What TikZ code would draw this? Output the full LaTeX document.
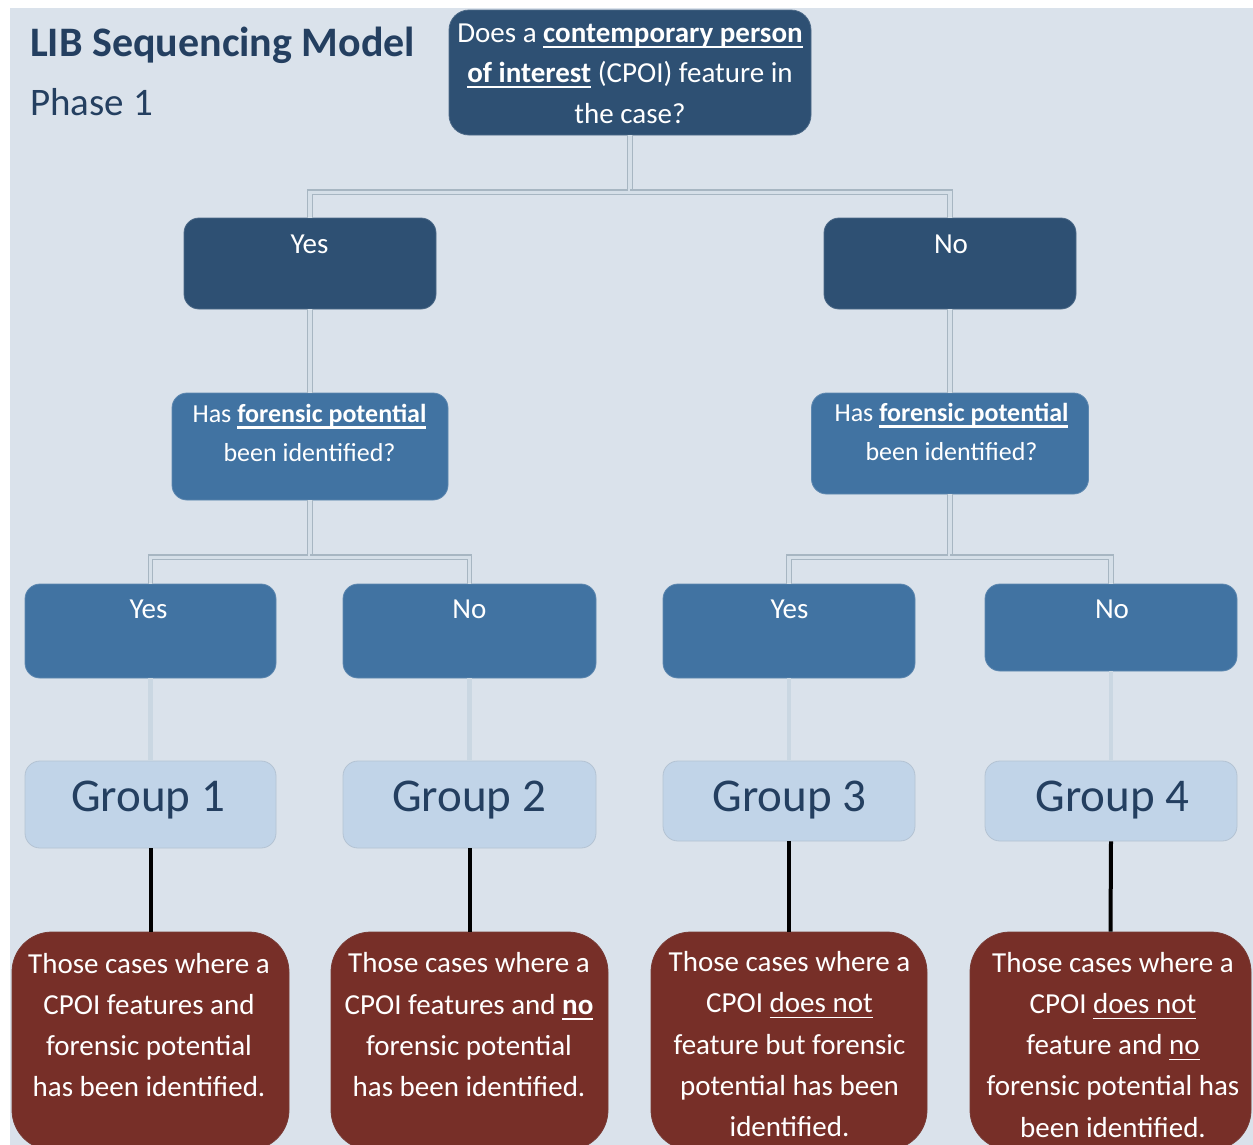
\documentclass[tikz,border=0pt]{standalone}
\usepackage{fontspec}
\setmainfont{Carlito}
\definecolor{bgc}{HTML}{DAE2EB}
\definecolor{dkb}{HTML}{2E5073}
\definecolor{mdb}{HTML}{4173A2}
\definecolor{ltb}{HTML}{C1D4E8}
\definecolor{grt}{HTML}{243F60}
\definecolor{rbrn}{HTML}{772F28}
\definecolor{lnout}{HTML}{A7B6C2}
\definecolor{lnin}{HTML}{D5DFE8}
\definecolor{lnlt}{HTML}{CAD7E2}
\newbox\myulbox
\newcommand\ulx[3]{\setbox\myulbox\hbox{#3}\rlap{\vrule width\wd\myulbox height -#1 depth \dimexpr#1+#2\relax}\box\myulbox}
\newcommand\bu[1]{\ulx{3.5pt}{2.4pt}{\textbf{#1}}}
\newcommand\ru[1]{\ulx{4pt}{1.3pt}{#1}}
\newcommand\fsT{\fontsize{29}{40.5}\selectfont}
\newcommand\fsY{\fontsize{29}{40}\selectfont}
\newcommand\fsQ{\fontsize{26}{39}\selectfont}
\newcommand\fsG{\fontsize{47}{57}\selectfont}
\newcommand\fsR{\fontsize{29}{41.2}\selectfont}
\tikzset{
  bx/.style={rectangle, inner sep=0pt},
  dk/.style={bx, fill=dkb, draw=dkb!85!white, line width=0.8pt, rounded corners=15pt},
  md/.style={bx, fill=mdb, draw=mdb!85!white, line width=0.8pt, rounded corners=15pt},
  lt/.style={bx, fill=ltb, draw=ltb!80!gray, line width=0.8pt, rounded corners=15pt},
  rd/.style={bx, fill=rbrn, draw=rbrn!85!gray, line width=0.8pt, rounded corners=40pt},
  wt/.style={inner sep=0pt, align=center, text=white},
  gt/.style={inner sep=0pt, align=center, text=grt},
  dconn/.style={draw=lnout, line width=1.2pt, double=lnin, double distance=3.5pt},
  lconn/.style={draw=lnlt, line width=4.5pt},
  bconn/.style={draw=black, line width=4pt}
}
\begin{document}
\begin{tikzpicture}[x=1pt,y=-1pt]
\useasboundingbox (0,0) rectangle (1253,1144);
\clip (0,0) rectangle (1253,1144);
\fill[white] (0,0) rectangle (1253,1144);
\fill[bgc] (10,8) rectangle (1253,1150);

% title
\node[anchor=base west, inner sep=0pt, text=grt, font=\fontsize{42}{50}\selectfont\bfseries] (title) at (30,56) {LIB Sequencing Model};
\node[anchor=base west, inner sep=0pt, text=grt, font=\fontsize{39}{48}\selectfont] (phase) at (30,115) {Phase 1};

% boxes
\node[dk, rounded corners=20pt, minimum width=362pt, minimum height=125pt] (top) at (630,72.5) {};
\node[dk, minimum width=252pt, minimum height=91pt] (y1) at (310,263.5) {};
\node[dk, minimum width=252pt, minimum height=91pt] (n1) at (950,263.5) {};
\node[md, minimum width=276pt, minimum height=107pt] (q1) at (310,446.5) {};
\node[md, minimum width=277pt, minimum height=101pt] (q2) at (950,443.5) {};
\node[md, minimum width=251pt, minimum height=94pt] (a3) at (150.5,631) {};
\node[md, minimum width=253pt, minimum height=94pt] (b3) at (469.5,631) {};
\node[md, minimum width=252pt, minimum height=94pt] (c3) at (789,631) {};
\node[md, minimum width=252pt, minimum height=87pt] (d3) at (1111,627.5) {};
\node[lt, minimum width=251pt, minimum height=87pt] (g1) at (150.5,804.5) {};
\node[lt, minimum width=253pt, minimum height=87pt] (g2) at (469.5,804.5) {};
\node[lt, minimum width=252pt, minimum height=80pt] (g3) at (789,801) {};
\node[lt, minimum width=252pt, minimum height=80pt] (g4) at (1111,801) {};
\node[rd, minimum width=277pt, minimum height=218pt] (r1) at (150.5,1041) {};
\node[rd, minimum width=277pt, minimum height=218pt] (r2) at (469.5,1041) {};
\node[rd, minimum width=276pt, minimum height=218pt] (r3) at (789,1041) {};
\node[rd, minimum width=281pt, minimum height=218pt] (r4) at (1110.5,1041) {};

% texts
\node[wt, font=\fsT] (ttop) at (630,74.4) {\strut Does a \bu{contemporary person}\\ \bu{of interest} (CPOI) feature in\\ the case?\strut};
\node[wt, font=\fsY] (ty1) at (309.5,245) {\strut Yes};
\node[wt, font=\fsY] (tn1) at (951,245) {\strut No};
\node[wt, font=\fsQ] (tq1) at (309.5,434.4) {\strut Has \bu{forensic potential}\\ been identified?\strut};
\node[wt, font=\fsQ] (tq2) at (951.5,433.6) {\strut Has \bu{forensic potential}\\ been identified?\strut};
\node[wt, font=\fsY] (ta3) at (148.5,610.7) {\strut Yes};
\node[wt, font=\fsY] (tb3) at (469.5,610.7) {\strut No};
\node[wt, font=\fsY] (tc3) at (789.5,610.7) {\strut Yes};
\node[wt, font=\fsY] (td3) at (1112,610.7) {\strut No};
\node[gt, font=\fsG] (tg1) at (148,800.3) {\strut Group 1};
\node[gt, font=\fsG] (tg2) at (469,800.3) {\strut Group 2};
\node[gt, font=\fsG] (tg3) at (789.5,800.3) {\strut Group 3};
\node[gt, font=\fsG] (tg4) at (1112.5,800.3) {\strut Group 4};
\node[wt, font=\fsR] (tr1) at (149,1026.9) {\strut Those cases where a\\ CPOI features and\\ forensic potential\\ has been identified.\strut};
\node[wt, font=\fsR] (tr2) at (469,1026.4) {\strut Those cases where a\\ CPOI features and \bu{no}\\ forensic potential\\ has been identified.\strut};
\node[wt, font=\fsR] (tr3) at (789.5,1045.9) {\strut Those cases where a\\ CPOI \ru{does not}\\ feature but forensic\\ potential has been\\ identified.\strut};
\node[wt, font=\fsR] (tr4) at (1113,1046.5) {\strut Those cases where a\\ CPOI \ru{does not}\\ feature and \ru{no}\\ forensic potential has\\ been identified.\strut};

% connectors
\path (top.south) ++(0,57) coordinate (j0);
\path (q1.south) ++(0,57) coordinate (j1);
\path (q2.south) ++(0,63) coordinate (j2);
\draw[dconn] (top.south) -- (j0) -| (y1.north);
\draw[dconn] (j0) -| (n1.north);
\draw[dconn] (y1.south) -- (q1.north);
\draw[dconn] (n1.south) -- (q2.north);
\draw[dconn] (q1.south) -- (j1) -| (a3.north);
\draw[dconn] (j1) -| (b3.north);
\draw[dconn] (q2.south) -- (j2) -| (c3.north);
\draw[dconn] (j2) -| (d3.north);
\draw[lconn] (a3.south) -- (g1.north);
\draw[lconn] (b3.south) -- (g2.north);
\draw[lconn] (c3.south) -- (g3.north);
\draw[lconn] (d3.south) -- (g4.north);
\draw[bconn] (g1.south) -- (r1.north);
\draw[bconn] (g2.south) -- (r2.north);
\draw[bconn] (g3.south) -- (r3.north);
\draw[bconn] (g4.south) -- (r4.north);
\end{tikzpicture}
\end{document}
